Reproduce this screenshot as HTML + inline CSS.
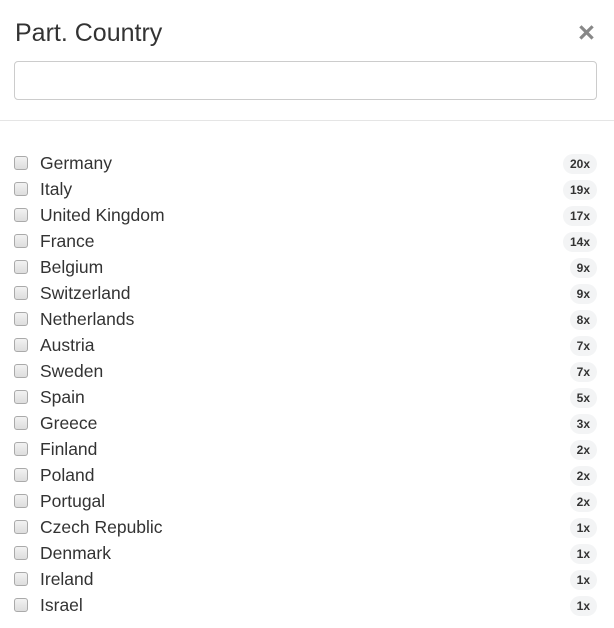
<!DOCTYPE html>
<html><head><style>
body{margin:0;width:614px;height:628px;background:#fff;font-family:"Liberation Sans",sans-serif;color:#333;position:relative;overflow:hidden}
.title{position:absolute;left:15px;top:17px;font-size:25px;line-height:32px;color:#333}
.close{position:absolute;left:578px;top:17px;font-size:29px;font-weight:bold;color:#888;line-height:32px}
.search{position:absolute;left:14px;top:61px;width:581px;height:37px;border:1px solid #ccc;border-radius:4px;background:#fff}
.sep{position:absolute;left:0;top:120px;width:614px;height:1px;background:#e5e5e5}
.row{position:absolute;left:0;width:614px;height:26px}
.cb{position:absolute;left:14px;top:6px;width:12px;height:12px;border:1px solid #aaa;border-radius:3px;background:linear-gradient(#f2f2f2,#ddd)}
.lbl{position:absolute;left:40px;top:0;font-size:17.5px;line-height:24px;color:#333}
.badge{position:absolute;right:17px;top:3px;height:20px;line-height:20px;padding:0 7px;border-radius:10px;background:#f3f4f5;font-size:12px;font-weight:bold;color:#333}
</style></head><body>
<div class="title">Part. Country</div>
<div class="close">×</div>
<div class="search"></div>
<div class="sep"></div>
<div id="list"></div>
<script>
const countries=["Germany","Italy","United Kingdom","France","Belgium","Switzerland","Netherlands","Austria","Sweden","Spain","Greece","Finland","Poland","Portugal","Czech Republic","Denmark","Ireland","Israel"];
const counts=[20,19,17,14,9,9,8,7,7,5,3,2,2,2,1,1,1,1];
const list=document.getElementById('list');
countries.forEach((c,i)=>{
  const r=document.createElement('div');r.className='row';r.style.top=(151+i*26)+'px';
  
  
  const cb=document.createElement('div');cb.className='cb';cb.style.top='5px';
  
  
  const l=document.createElement('div');l.className='lbl';l.textContent=c;
  
  
  const b=document.createElement('div');b.className='badge';b.textContent=counts[i]+'x';
  
  
  r.append(cb,l,b);list.appendChild(r);
});
</script>
</body></html>
